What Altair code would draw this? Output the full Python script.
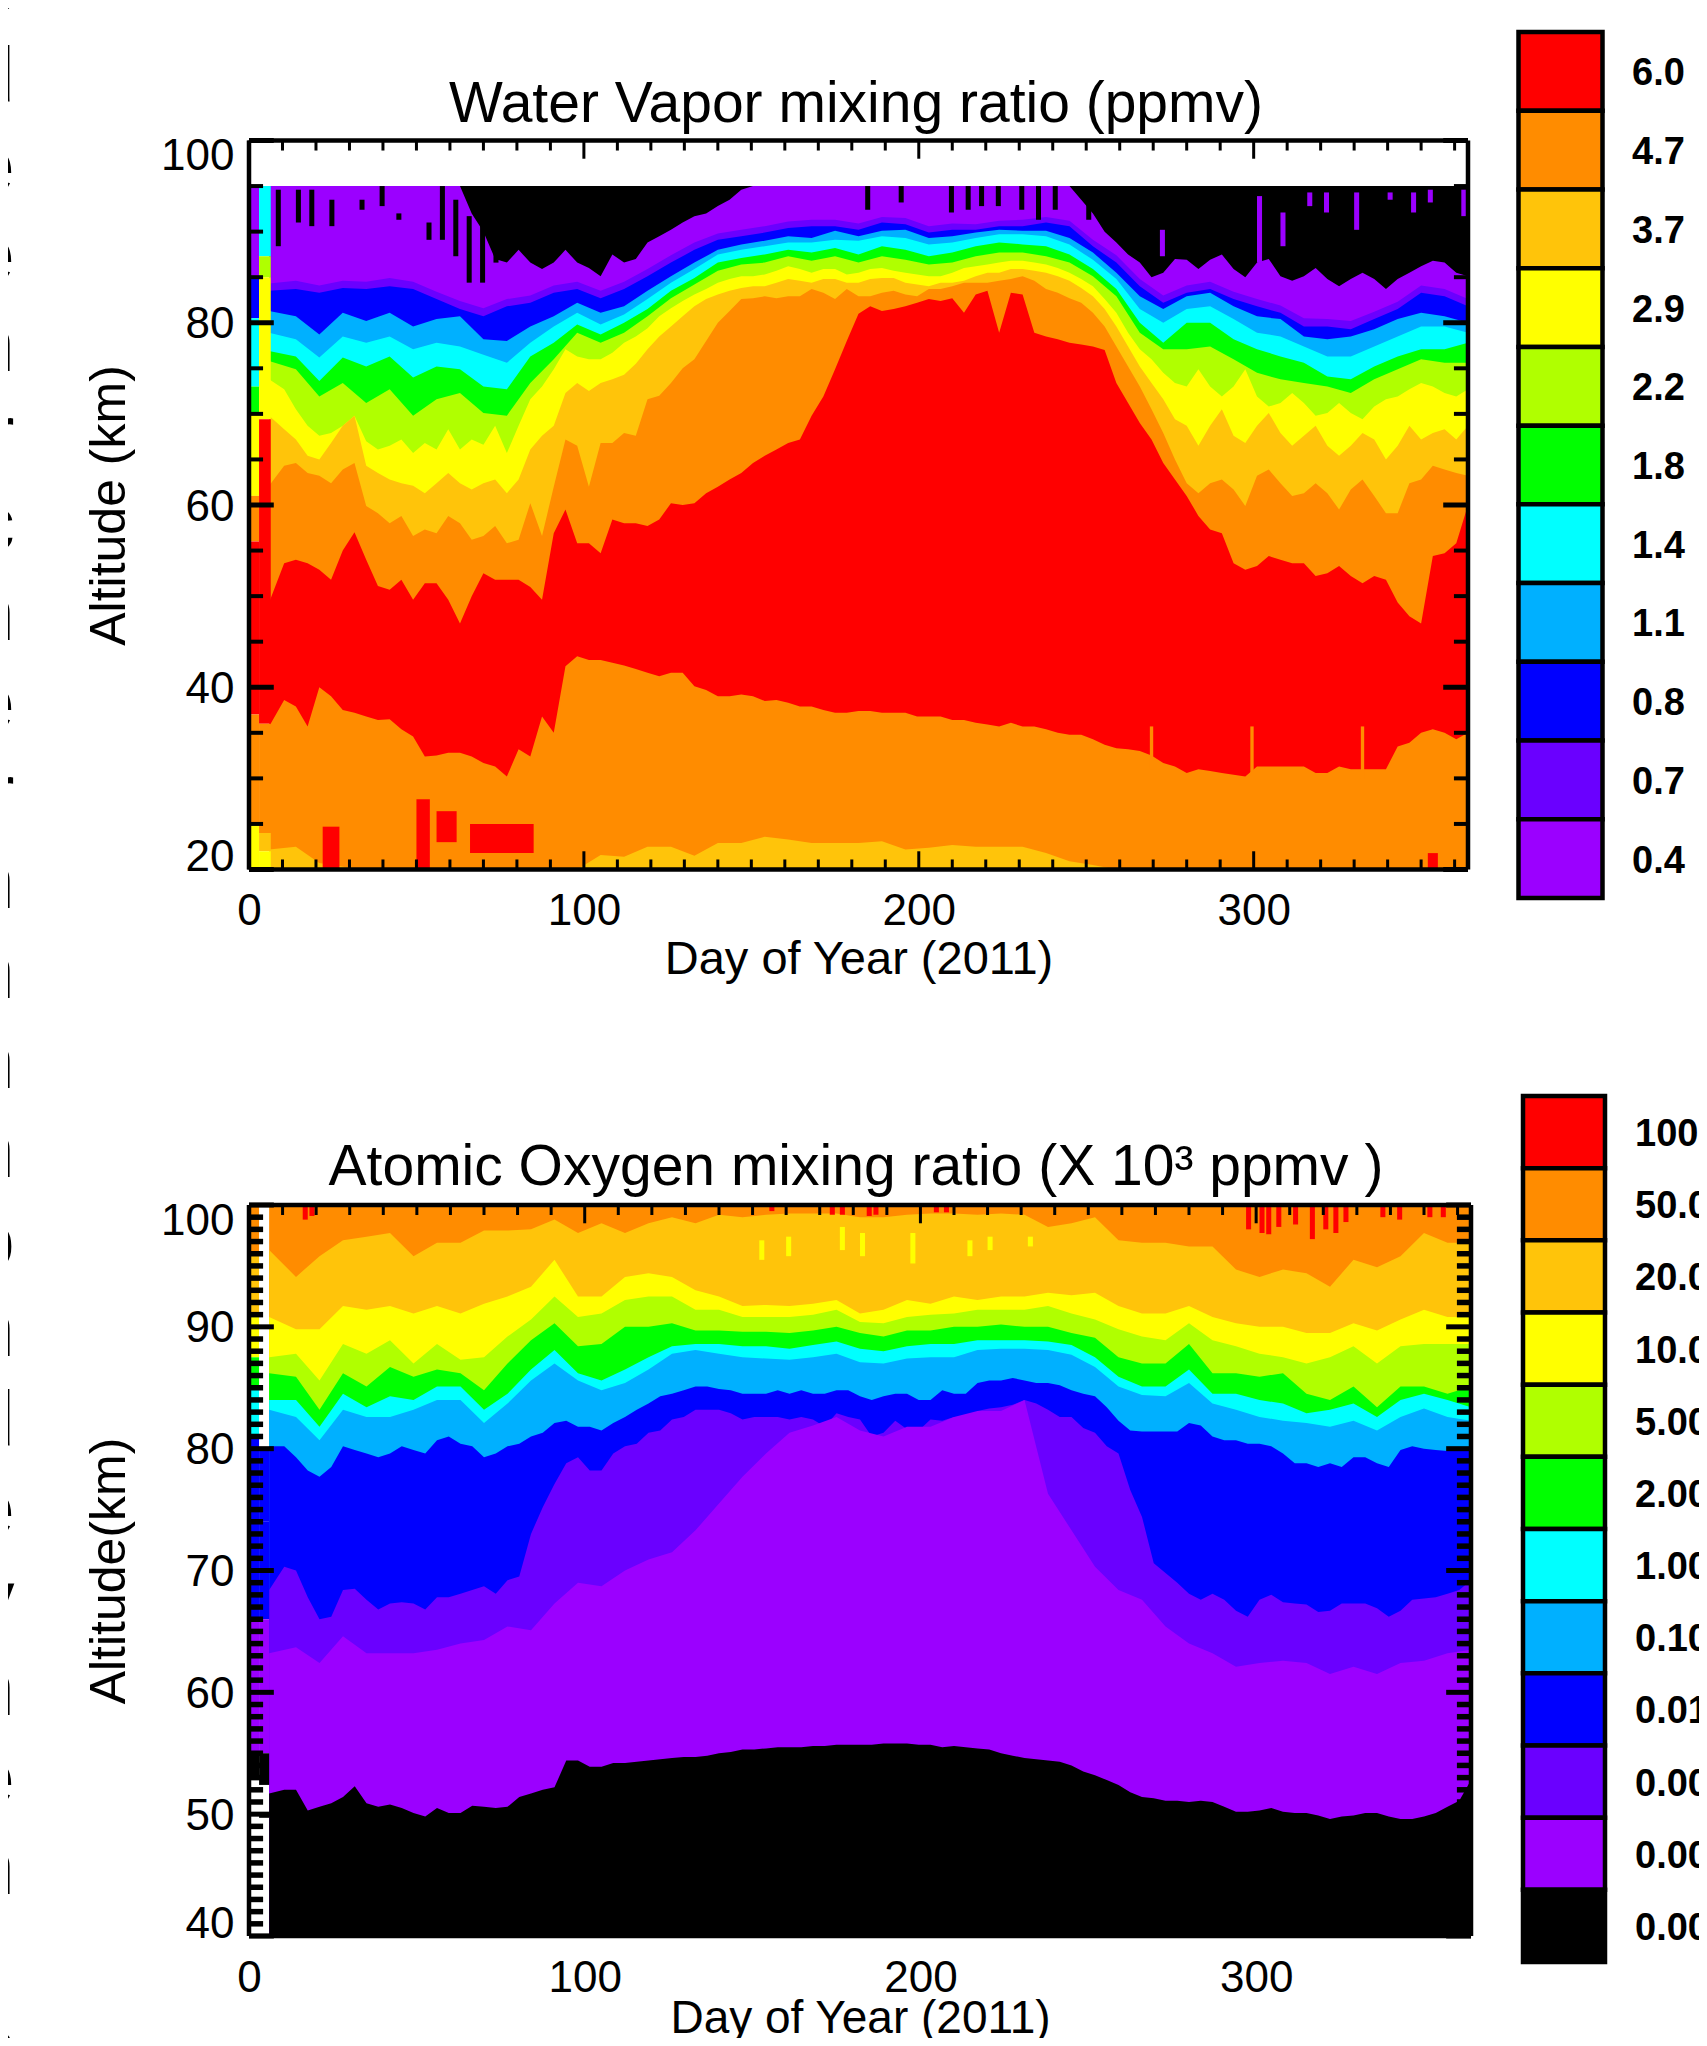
import altair as alt
import pandas as pd

alt.data_transformers.disable_max_rows()

FONT = "Liberation Sans, sans-serif"
RED, ORANGE, GOLD, YELLOW, LIME, GREEN = "#ff0000", "#ff8c00", "#ffc40a", "#ffff00", "#b0ff00", "#00ff00"
CYAN, SKY, BLUE, INDIGO, VIOLET, BLACK = "#00ffff", "#00b0ff", "#0000ff", "#6a00ff", "#9b00ff", "#000000"

DAYS = [6] + list(range(14, 365, 7))
MID_DAYS = [10.5 + 7 * k for k in range(51)]

# ---------- Water vapour: upper altitude (km) of every contour band ----------
wv_purple = [95,95,95,95,95,95,95,95,95,90,86.6,86.6,86.6,86.6,85.1,86.6,88.8,90.2,91.7,92.8,94.6,95,95,95,95,
             95,95,95,95,95,95,95,95,95,95,92,88.8,86.6,85.5,86.9,86.9,85.9,86.6,85.1,85.1,84.8,84.8,84.8,84.8,86.2,86.6,85.1]
wv_purple_mid = [95,95,95,95,95,95,95,95,92,87,88,85.9,88,86,87.5,87,89.5,91,92,93.5,95,95,95,95,95,
                 95,95,95,95,95,95,95,95,95,93.5,90,87.5,85,87,85.9,87.5,85,87,84.6,86,84,85.5,83.7,85.5,86.8,85.5]
wv_indigo = [84.3,84.6,84.1,84.6,84.5,84.9,84.5,83.4,82.4,81.6,82.6,83,84.1,84.5,83.5,84.5,85.9,87.4,88.8,89.8,90.2,90.6,91.1,91.3,91.3,
             90.9,91.6,91.5,90.6,90.9,90.8,91.2,91.3,91.6,91.2,89.1,87.4,84.8,83,84.1,84.5,83.4,82.6,81.9,80.5,80.4,80.2,81.2,82.3,84.1,83.7,82.6]
wv_blue = [83.5,83.7,83.3,83.8,83.7,84.0,83.7,82.6,81.5,80.7,81.8,82.2,83.3,83.7,82.7,83.7,85.1,86.6,88.0,89.1,89.5,89.9,90.4,90.6,90.6,
           90.2,91.0,90.8,89.9,90.2,90.2,90.6,90.6,91.0,90.6,88.4,86.6,84.0,82.2,83.3,83.7,82.6,81.8,81.1,79.6,79.6,79.3,80.4,81.5,83.3,82.9,81.8]
wv_sky = [81.3,80.7,78.7,81.1,80.2,81.1,79.6,80.4,80.7,78.2,78.0,79.6,80.7,82.2,81.1,81.8,83.5,85.1,86.6,88.0,88.6,89.0,89.5,89.3,90.1,
          89.5,90.1,90.2,89.3,89.5,89.9,90.2,90.1,90.1,89.3,87.7,85.5,82.9,81.5,82.9,83.3,81.8,80.7,80.4,78.5,78.2,78.5,79.3,80.4,81.1,80.7,80.0]
wv_cyan = [78.9,78.2,76.2,78.5,77.8,78.5,77.1,77.8,77.4,76.5,75.6,77.8,79.6,81.1,79.8,80.9,82.6,84.4,85.9,87.5,88.0,88.4,88.8,88.8,89.1,
           89.0,89.5,89.3,88.6,88.8,89.3,89.7,89.7,89.5,88.6,86.9,84.8,81.5,80.0,81.5,81.8,80.4,78.9,78.5,77.4,76.3,76.3,77.4,78.5,79.6,79.6,78.9]
wv_green = [76.9,76.3,73.6,76.2,75.2,76.3,74.0,75.2,74.9,73.0,72.7,76.3,77.8,79.8,78.7,80.0,81.5,83.5,84.9,86.6,87.1,87.5,88.0,87.7,88.2,
            87.5,88.4,88.0,87.3,87.7,88.4,88.8,88.6,88.4,87.5,85.9,83.7,80.0,77.8,80.0,80.0,78.2,77.1,76.3,75.6,74.1,73.8,75.2,76.3,77.1,77.1,77.8]
wv_lime = [75.8,74.9,71.9,73.4,71.2,72.7,69.8,71.6,72.3,70.1,69.8,73.4,76.0,78.9,77.8,78.9,80.7,82.7,84.2,85.7,86.4,86.6,87.3,86.8,87.3,
           86.6,87.3,86.9,86.4,86.6,87.3,87.7,87.7,87.3,86.6,85.1,82.9,78.9,77.1,77.1,77.4,76.0,74.5,73.8,73.4,73.0,72.3,73.8,74.9,76.0,75.6,75.6]
wv_yellow = [73.8,70.5,67.6,68.7,67.0,66.5,65.7,66.1,66.1,66.6,65.7,71.6,74.9,76.3,76.0,77.8,79.4,81.6,83.1,84.4,85.1,85.3,86.2,85.5,85.9,
             85.5,86.0,85.5,85.1,85.5,86.2,86.6,86.8,86.4,85.5,84.0,81.1,77.1,74.5,73.0,73.0,73.0,71.9,71.2,71.2,70.1,70.1,70.8,71.9,73.4,72.3,72.7]
wv_yellow_mid = [72.7,68.7,67.9,69.8,66.1,67.2,66.8,68.3,67.2,68.7,68.7,73,77.1,76,76.7,78.5,80.7,82.4,83.7,84.8,85.1,85.7,85.9,85.9,85.3,
                 85.9,85.7,85.3,85.1,86,86.4,86.8,86.6,86,84.8,82.6,78.9,76,73.4,74.9,71.9,74.9,70.8,72.3,69.8,71.2,69.4,71.6,72.7,73,71.9]
wv_gold = [69.8,67.2,65.0,68.7,64.3,62.8,62.1,62.4,62.4,62.4,61.3,66.1,68.7,73.4,73.4,74.3,77.1,79.6,81.8,83.1,83.8,84.0,84.8,84.4,84.8,
           84.4,84.9,84.4,84.0,84.4,85.1,85.5,85.9,85.5,84.6,82.9,79.6,75.2,71.6,68.7,68.7,67.6,68.7,67.9,67.6,66.5,66.5,67.2,66.5,67.2,68.3,68.7]
wv_gold_mid = [68.3,65.4,66.8,69.8,63.5,62.4,61.3,63.5,61.7,62.8,62.8,67.6,72.3,72.5,73.8,75.5,78.5,80.7,82.6,83.5,84,84.4,84.6,84.8,84.4,
               84.8,84.9,84.2,84.4,84.6,85.5,85.9,85.7,85.1,83.8,81.5,77.4,73.4,69.4,66.5,70.5,66.8,70.1,66.5,68.7,65.4,67.9,65,68.7,67.9,67.2]
wv_orange = [62.1,64.6,63.2,63.9,59.9,58.0,56.6,56.9,58.0,56.6,55.8,60.2,62,66.5,66.8,67.9,71.6,73.4,76.0,80.0,82.6,82.9,82.9,83.7,82.6,
             82.9,83.3,83.1,83.7,84.0,84.4,84.6,85.1,83.7,82.7,81.1,77.4,73.0,67.9,62.4,62.4,61.7,63.2,62.4,61.3,61.3,61.7,61.0,59.1,62.8,63.9,63.2]
wv_orange_mid = [64.3,63.5,62.4,64.6,59.1,58.8,57.3,58.8,56.2,57.7,56.2,56.6,67.2,62,66.8,67.6,72,75,78,81.3,82.7,82.7,82.9,83.3,83.7,
                 82.9,83.5,82.9,83.7,84.4,84.4,84.8,84.6,83.3,82.2,79.6,75.2,70.5,65,61.3,62.8,59.9,63.9,61,62.4,59.5,62.8,59.1,62.4,64.3,63.5]
wv_red_top = [49.3,54,52.9,55,54,50.7,49.6,51.4,47,52.5,51.8,51,56.9,55.8,54.7,58,57.7,60.2,60.2,62,63.5,65.4,66.8,69.8,74.9,
              81,81.3,81.8,82.6,82.7,83.1,78.9,83.1,78.5,77.8,77.4,73.4,69,64.6,61,57.3,53.6,53.3,54,53.6,52.5,52.2,52.2,49.3,47,54.7,60]
wv_red_top_mid = [53.6,53.6,51.8,57,51.1,51.8,51.4,49.6,50,51.8,51.8,49.6,59.5,55.8,58.4,58,58.4,60,61.3,62.8,64.6,66.1,67.2,71.9,78,
                  81.8,81.5,82.2,82.4,81.1,83.5,83.3,78.9,78.2,77.6,77,71.2,67.2,62.8,58.8,56.9,52.9,54.4,53.6,52.2,53.3,51.4,51.8,47.8,54.4,55.8]
wv_red_bot = [35.7,37.9,40,37.5,36.8,36.5,34.6,32.5,32.8,31.7,30.2,32.4,35,43.4,43,42.4,41.6,41.6,40.1,39,39.2,38.5,38.3,37.9,37.2,
              37.4,37.2,37.2,36.8,36.4,36.1,35.7,35.7,35.4,34.8,34.3,33.3,33,31.7,30.6,30.8,30.4,31.3,31.3,31.3,30.6,31,31,33.5,35,35,35]
wv_red_bot_mid = [38.6,35.7,39,37.2,36.4,35.4,32.4,32.8,32.4,31.3,33.2,36.8,42.3,43,42.7,42,41.2,41.6,39.7,39,39,38.6,37.9,37.5,37.2,
                  37.4,37.2,36.8,36.8,36.4,35.9,36.1,35.7,35,34.8,33.7,33.2,32.5,31.3,31,30.6,30.2,31.3,31.3,30.6,31.3,31,31,33.9,35.4,34.3]
wv_low_gold = [22.2,22.5,20.7,20.3,20,20,20,20,20,20,20,20,20,20,21.6,21.4,22.5,22.5,21.5,22.9,22.9,23.6,23.3,22.9,22.9,
               22.9,23.1,22.2,22.4,22.7,22.5,22.5,22.5,21.8,20.9,20.5,20,20,20,20,20,20,20,20,20,20,20,20,20,20,20,20]

wv_blob_days = [(22, 27), (50, 54), (56, 62), (66, 85), (352, 355)]
wv_blob_alts = [(24.7, 20), (27.7, 20), (26.4, 23), (25, 21.8), (21.8, 20)]

wv_black_day = [8,14,18,24,33,39,44,53,57,61,65,69,73,184,194,209,214,218,223,230,235,240,250]
wv_black_hi = [94.6,94.6,94.6,93.5,93.5,95,92,91,95,93.5,91.7,94.6,95,95,95,95,95,95,95,95,95,95,95]
wv_black_lo = [88.4,91,90.6,90.6,92.4,92.8,91.3,89.1,89.1,87.3,84.4,84.4,86.6,92.4,93.2,92.1,92.4,92.8,92.8,92.4,91.3,92.4,91.3]
wv_violet_day = [272,301,308,316,321,330,340,347,352,362]
wv_violet_hi = [90.2,93.9,92.1,94.3,94.3,94.3,94.3,94.3,94.6,94.6]
wv_violet_lo = [87.3,86.6,88.4,92.8,92.1,90.2,93.5,92.1,93.2,91.7]
wv_orange_day = [269, 299, 332]
wv_orange_hi = [35.7, 35.7, 35.7]
wv_orange_lo = [31, 30, 30]

wv_strip = [
    (0.5, 3, 95, 85, VIOLET), (0.5, 3, 85, 80.5, BLUE), (0.5, 3, 80.5, 73, CYAN), (0.5, 3, 73, 70, GREEN),
    (0.5, 3, 70, 61, YELLOW), (0.5, 3, 61, 56, ORANGE), (0.5, 3, 56, 37, RED), (0.5, 3, 37, 25, ORANGE), (0.5, 3, 25, 20, YELLOW),
    (3, 6.5, 95, 87.3, CYAN), (3, 6.5, 87.3, 85, LIME), (3, 6.5, 85, 69.4, YELLOW), (3, 6.5, 69.4, 36, RED),
    (3, 6.5, 36, 24, ORANGE), (3, 6.5, 24, 22, GOLD), (3, 6.5, 22, 20, YELLOW),
]

# ---------- Atomic oxygen ----------
ao_gold = [96.3,94.1,95.8,97.1,97.4,97.7,95.8,96.9,96.9,97.9,97.9,98,98.8,97.7,98.5,97.7,98.5,99,98.5,99.2,99,99.2,99.3,99.3,99.3,
           99,99,99.2,99.3,99.3,99.2,99.3,99.2,98.2,98.5,99,97.1,96.9,96.9,96.6,96.6,94.7,94.1,94.7,94.4,93.3,95.5,94.9,95.8,97.7,96.9,96.9]
ao_yellow = [90.8,89.8,89.8,91.7,91.4,91.7,91.1,91.7,91.1,91.9,92.5,93.3,95.5,92.5,92.5,94.1,94.4,94.1,93.0,92.5,91.7,91.8,91.7,91.9,92.2,
             91.1,91.4,92.2,91.9,92.5,92.2,92.5,92.5,92.8,92.6,92.8,91.7,91.1,91.1,91.7,90.8,90.3,90.0,90.0,89.5,89.5,90.3,89.7,90.6,91.4,90.8,90.8]
ao_lime = [87.5,87.8,85.6,88.6,87.8,88.9,87.0,88.6,87.3,87.5,89.2,90.6,92.5,90.8,91.1,92.2,92.5,92.5,91.4,91.4,90.8,90.8,90.8,91.0,91.4,
           90.4,90.3,90.8,91.0,91.1,91.4,91.4,91.4,91.7,91.1,90.6,89.8,89.2,88.9,90.3,88.9,88.4,87.8,87.5,87.0,87.5,88.4,87.0,88.4,88.6,88.6,88.6]
ao_green = [86.2,85.9,83.2,86.2,85.1,86.7,85.9,86.5,86.2,84.8,87.0,88.9,90.3,88.4,88.6,90.0,90.0,90.3,89.7,89.7,89.6,89.6,89.5,89.7,90.0,
            89.5,89.2,89.7,89.7,90.0,90.0,90.2,90.0,90.0,89.5,89.1,87.5,87.0,87.0,88.6,86.2,86.2,85.9,86.2,84.5,84.0,85.1,83.4,85.1,85.1,84.5,85.1]
ao_cyan = [84.0,84.0,81.8,84.5,83.4,84.3,84.0,85.1,85.1,83.2,84.5,86.5,88.1,86.2,85.6,86.5,87.5,88.4,88.6,88.6,88.4,88.4,88.2,88.5,88.8,
           88.2,88.0,88.4,88.6,88.6,88.9,88.9,88.9,88.8,88.5,87.5,85.9,85.1,85.1,86.5,84.5,84.5,84.0,83.7,82.9,83.2,83.7,82.6,84.0,84.5,84.0,83.4]
ao_sky = [83.2,82.6,80.7,83.2,82.6,82.6,83.2,84.0,84.0,82.1,83.7,85.6,87.0,85.6,84.8,85.4,86.5,87.8,88.1,87.8,87.5,87.4,87.3,87.5,87.8,
          87.1,87.0,87.4,87.5,87.5,88.1,88.2,88.2,88.1,87.7,86.7,85.1,84.4,84.3,85.4,83.7,83.2,82.6,82.3,82.1,81.8,82.3,81.5,82.6,83.3,82.6,82.3]
ao_blue = [80.2,79.3,77.7,80.2,79.6,79.6,79.9,80.7,80.4,79.3,80.2,81.0,82.1,81.8,81.5,82.6,83.7,84.5,85.1,84.9,84.5,84.5,84.5,84.5,84.8,
           84.3,84.3,84.5,84.0,84.5,85.4,85.6,85.6,85.4,84.8,84.3,82.3,81.4,81.4,82.1,81.0,80.7,80.4,79.6,78.8,78.8,79.3,78.8,79.9,80.0,79.8,79.9]
ao_blue_mid = [80.2,78.2,78.5,79.9,79.3,80.2,79.6,81,80.2,79.6,80.4,81.3,82.3,81.8,82.1,83.2,84.3,84.8,85.1,84.8,84.5,84.8,84.8,84.5,84.8,
               84,84.5,84,84.8,84.5,85.6,85.8,85.4,85.2,84.5,83.4,81.5,81.4,81.4,81.9,80.7,80.4,80.2,78.8,78.5,78.5,79.3,78.5,80.2,79.9,79.9]
ao_indigo = [68.4,70,66,68.4,67.6,67.3,67.3,67.8,68.1,68.7,69.2,73,77.1,79.3,78.2,80.2,81.3,82.4,83.2,83.2,82.4,82.6,82.4,82.4,82.9,
             82.4,81.3,81.6,82.4,82.6,83.1,83.4,84,83.2,82.6,81.3,79.6,74.4,69.8,68.1,68.1,66.7,67.6,67.4,67.2,66.7,67.3,66.9,66.7,67.7,68.1,69.2]
ao_indigo_mid = [70.3,67.8,66.2,68.5,66.8,67.4,66.8,67.8,68.4,68.1,69.5,75.2,78.8,78.2,79.6,80.4,81.5,82.6,83.2,82.9,82.6,82.6,82.6,81.8,82.6,
                 81,82.3,81.5,82.3,81.8,83.3,83.6,83.7,82.6,81.7,80.2,76.6,70.6,69,67.6,67.6,66.2,68,67.3,66.6,67.3,67.3,66.2,67.6,67.8,68.4]
ao_violet = [63.2,63.7,62.4,64.6,63.2,63.2,63.2,63.5,64,64.3,65.4,65.1,67.3,69,68.7,70,70.9,71.5,73.3,75.5,77.7,79.6,81.3,81.9,82.6,
             81.5,81.0,81.8,81.8,82.6,83.1,83.1,84,76.3,73.3,70.3,68.4,67.6,65.4,64,63.2,62.1,62.4,62.6,62.4,61.5,62.1,61.5,62.4,62.6,63.2,63.5]
ao_black = [51.7,52,50.6,51.4,50.9,50.8,50.1,50.5,50.1,50.6,50.6,51.7,52.2,54.4,53.9,54.2,54.4,54.6,54.7,55,55.3,55.4,55.5,55.6,55.7,
            55.7,55.8,55.8,55.7,55.6,55.4,55,54.6,54.4,54,53.2,52.4,51.4,51.1,51,51,50.2,50.3,50.2,50.1,49.6,49.9,50.1,49.6,49.8,50.6,52.8]
ao_black_mid = [52,50.3,50.9,52.3,50.6,50.5,49.8,50.1,50.7,50.5,51.4,52,54.4,53.9,54.2,54.3,54.5,54.7,54.8,55.1,55.3,55.5,55.5,55.6,55.7,
                55.7,55.8,55.7,55.5,55.5,55.3,54.8,54.5,54.3,53.5,52.8,51.8,51.3,51.1,51.1,50.6,50.2,50.5,50.1,49.9,49.8,50.1,49.8,49.6,50.1,51.1]

ao_red_day = [16,18,155,173,176,184,186,204,207,297,301,303,306,311,316,320,323,326,337,342,351,355]
ao_red_hi = [100,100,100,100,100,100,100,100,100,100,100,100,100,100,100,100,100,100,100,100,100,100]
ao_red_lo = [98.8,99.1,99.5,99.2,99.2,99.1,99.2,99.4,99.4,98,97.7,97.6,98.2,98.4,97.2,98,97.7,98.6,99,98.8,99,99]
ao_yellow_day = [152,160,176,182,197,214,220,232]
ao_yellow_hi = [97.1,97.4,98.2,97.7,97.7,97.1,97.4,97.4]
ao_yellow_lo = [95.5,95.8,96.3,95.8,95.2,95.8,96.3,96.6]

ao_strip = [
    (0.5, 3, 100, 96, ORANGE), (0.5, 3, 96, 91, GOLD), (0.5, 3, 91, 87.5, YELLOW), (0.5, 3, 87.5, 85, GREEN),
    (0.5, 3, 85, 81, CYAN), (0.5, 3, 81, 66, BLUE), (0.5, 3, 66, 55, VIOLET), (0.5, 3, 55, 53, BLACK),
    (3, 6, 80, 74, BLUE), (3, 6, 74, 66, BLUE), (3, 6, 66, 55, VIOLET), (3, 6, 55, 52.4, BLACK), (3, 6, 50, 49.7, BLACK),
]

wv_labels = ["6.0", "4.7", "3.7", "2.9", "2.2", "1.8", "1.4", "1.1", "0.8", "0.7", "0.4"]
wv_bar_colors = [RED, ORANGE, GOLD, YELLOW, LIME, GREEN, CYAN, SKY, BLUE, INDIGO, VIOLET]
ao_labels = ["100.0", "50.00", "20.00", "10.00", "5.000", "2.000", "1.000", "0.100", "0.010", "0.005", "0.001", "0.000"]
ao_bar_colors = [RED, ORANGE, GOLD, YELLOW, LIME, GREEN, CYAN, SKY, BLUE, INDIGO, VIOLET, BLACK]

letters = ["s", "d", "e", "e", "n", "r", "c", "n", "e", "r", "n", "n", "n", "n", "o", "n", "d", "e", "y", "n", "e", "n", ".", "s"]

# ---------- layout (view pixels) ----------
W, H = 1691, 2030
P1 = dict(x=[241, 1460], y=[861.5, 132.5], ydom=[20, 100], xdom=[0, 364], xtitle=(47, 3))
P2 = dict(x=[241, 1463], y=[1928, 1197], ydom=[40, 100], xdom=[0, 364], xtitle=(46, -4))


def sx(p):
    return alt.Scale(domain=p["xdom"], range=p["x"], nice=False, zero=False)


def sy(p):
    return alt.Scale(domain=p["ydom"], range=p["y"], nice=False, zero=False)


def merged(main, mid):
    if mid is None:
        return list(zip(DAYS, main))
    assert len(main) == len(DAYS) and len(mid) == len(MID_DAYS), (len(main), len(mid))
    return sorted(list(zip(DAYS, main)) + list(zip(MID_DAYS, mid)))


def bands(rows):
    out = []
    for key, row in enumerate(rows):
        color, hi, lo = row[0], row[1], row[2]
        hi_mid = row[3] if len(row) > 3 else None
        lo_mid = row[4] if len(row) > 4 else None
        assert len(hi) == len(DAYS), (key, len(hi))
        upper = merged(hi, hi_mid)
        if isinstance(lo, list):
            lower = [v for _, v in merged(lo, lo_mid)]
        else:
            lower = [lo] * len(upper)
        for (d, h), l in zip(upper, lower):
            out.append(dict(day=d, hi=h, lo=l, color=color, key=key))
    return pd.DataFrame(out)


def rects(rows):
    return pd.DataFrame([dict(d1=a, d2=b, hi=h, lo=l, color=c) for a, b, h, l, c in rows])


def streaks(days, his, los, color, width=1.5):
    return [(d, d + width, h, l, color) for d, h, l in zip(days, his, los)]


def ticks(p, xminor, yminor, ymajor, xlen, ylen, yw):
    x0, x1 = p["xdom"]
    y0, y1 = p["ydom"]
    rows = []
    for v in xminor:
        major = v % 100 == 0
        ln = xlen[0] if major else xlen[1]
        for base, sgn in ((y0, 1), (y1, -1)):
            rows.append(dict(x=v, x2=v, hi=base, y2=base + sgn * ln, w=3))
    for v in yminor:
        major = v in ymajor
        ln = ylen[0] if major else ylen[1]
        for base, sgn in ((x0, 1), (x1, -1)):
            rows.append(dict(x=base, x2=base + sgn * ln, hi=v, y2=v, w=5 if major else yw))
    for a, b, c, d in ((x0, x1, y0, y0), (x0, x1, y1, y1), (x0, x0, y0, y1), (x1, x1, y0, y1)):
        rows.append(dict(x=a, x2=b, hi=c, y2=d, w=4.5))
    return pd.DataFrame(rows)


def panel(p, band_df, rect_df, tick_df, ytick_vals, ytitle, title_text, title_x, title_y):
    x_axis = alt.Axis(
        orient="bottom", offset=p["y"][0] - H, values=[0, 100, 200, 300], domain=False, ticks=False, tickSize=0,
        grid=False, labelFont=FONT, labelFontSize=44, labelColor="black", labelPadding=20, labelFlush=False,
        labelAngle=0, format="d", title="Day of Year (2011)", titleFont=FONT, titleFontSize=p["xtitle"][0],
        titleFontWeight="normal", titleColor="black", titlePadding=p["xtitle"][1])
    y_axis = alt.Axis(
        orient="left", offset=-p["x"][0], values=ytick_vals, domain=False, ticks=False, tickSize=0, grid=False,
        labelFont=FONT, labelFontSize=44, labelColor="black", labelPadding=15, labelFlush=True, labelFlushOffset=8,
        labelOffset=2, format="d",
        title=ytitle, titleFont=FONT, titleFontSize=50, titleFontWeight="normal", titleColor="black", titlePadding=26)
    col = alt.Color("color:N", scale=None, legend=None)
    areas = alt.Chart(band_df).mark_area(clip=True, interpolate="linear").encode(
        x=alt.X("day:Q", scale=sx(p), axis=x_axis), y=alt.Y("hi:Q", scale=sy(p), axis=y_axis), y2="lo:Q", color=col, detail="key:N")
    spots = alt.Chart(rect_df).mark_rect(clip=True).encode(
        x=alt.X("d1:Q", scale=sx(p), axis=x_axis), x2="d2:Q",
        y=alt.Y("hi:Q", scale=sy(p), axis=y_axis), y2="lo:Q", color=col)
    marks = alt.Chart(tick_df).mark_rule(color="black", clip=True).encode(
        x=alt.X("x:Q", scale=sx(p), axis=x_axis), x2="x2:Q",
        y=alt.Y("hi:Q", scale=sy(p), axis=y_axis), y2="y2:Q",
        strokeWidth=alt.StrokeWidth("w:Q", scale=None, legend=None))
    head = alt.Chart(pd.DataFrame({"t": [title_text]})).mark_text(
        font=FONT, fontSize=57, align="center", baseline="alphabetic", color="black").encode(
        x=alt.value(title_x), y=alt.value(title_y), text="t:N")
    return alt.layer(areas, spots, marks, head)


def colorbar(labels, colors, yrange, xa, xb, xlabel):
    n = len(labels)
    df = pd.DataFrame(dict(i=list(range(n)), j=[k + 1 for k in range(n)], m=[k + 0.5 for k in range(n)],
                           label=labels, color=colors))
    scale = alt.Scale(domain=[0, n], range=yrange, nice=False, zero=False)
    bars = alt.Chart(df).mark_rect(stroke="black", strokeWidth=4.5).encode(
        x=alt.value(xa), x2=alt.value(xb), y=alt.Y("i:Q", scale=scale, axis=None), y2="j:Q",
        color=alt.Color("color:N", scale=None, legend=None))
    text = alt.Chart(df).mark_text(font=FONT, fontSize=38, fontWeight="bold", align="left", baseline="middle",
                                   dy=3, color="black", clip=True).encode(
        x=alt.value(xlabel), y=alt.Y("m:Q", scale=scale, axis=None), text="label:N")
    return alt.layer(bars, text)


# ---------- assemble ----------
wv_band_df = bands([
    (BLACK, [95] * len(DAYS), 20), (VIOLET, wv_purple, 20, wv_purple_mid), (INDIGO, wv_indigo, 20), (BLUE, wv_blue, 20),
    (SKY, wv_sky, 20), (CYAN, wv_cyan, 20), (GREEN, wv_green, 20), (LIME, wv_lime, 20), (YELLOW, wv_yellow, 20, wv_yellow_mid),
    (GOLD, wv_gold, 20, wv_gold_mid), (ORANGE, wv_orange, 20, wv_orange_mid),
    (RED, wv_red_top, wv_red_bot, wv_red_top_mid, wv_red_bot_mid), (GOLD, wv_low_gold, 20),
])
wv_rects = rects(
    wv_strip
    + streaks(wv_black_day, wv_black_hi, wv_black_lo, BLACK)
    + streaks(wv_violet_day, wv_violet_hi, wv_violet_lo, VIOLET)
    + streaks(wv_orange_day, wv_orange_hi, wv_orange_lo, ORANGE, 1.0)
    + [(d[0], d[1], a[0], a[1], RED) for d, a in zip(wv_blob_days, wv_blob_alts)]
)
wv_ticks = ticks(P1, list(range(0, 361, 10)), list(range(25, 100, 5)) + [20, 100], [20, 40, 60, 80, 100], (2.0, 1.1), (7.4, 4.2), 4)
ao_band_df = bands([
    (ORANGE, [100] * len(DAYS), 40), (GOLD, ao_gold, 40), (YELLOW, ao_yellow, 40), (LIME, ao_lime, 40),
    (GREEN, ao_green, 40), (CYAN, ao_cyan, 40), (SKY, ao_sky, 40), (BLUE, ao_blue, 40, ao_blue_mid),
    (INDIGO, ao_indigo, 40, ao_indigo_mid), (VIOLET, ao_violet, 40), (BLACK, ao_black, 40, ao_black_mid),
])
ao_rects = rects(
    ao_strip
    + streaks(ao_red_day, ao_red_hi, ao_red_lo, RED)
    + streaks(ao_yellow_day, ao_yellow_hi, ao_yellow_lo, YELLOW)
)
ao_ticks = ticks(P2, list(range(0, 361, 10)), list(range(40, 101)), [40, 50, 60, 70, 80, 90, 100], (1.5, 0.82), (7.4, 4.2), 5.5)

p1 = panel(P1, wv_band_df, wv_rects, wv_ticks, [20, 40, 60, 80, 100], "Altitude (km)",
           "Water Vapor mixing ratio (ppmv)", 848, 114)
p2 = panel(P2, ao_band_df, ao_rects, ao_ticks, [40, 50, 60, 70, 80, 90, 100], "Altitude(km)",
           "Atomic Oxygen mixing ratio (X 10\u00b3 ppmv )", 848, 1177)
cb1 = colorbar(wv_labels, wv_bar_colors, [24, 890], 1510.5, 1594.5, 1624)
cb2 = colorbar(ao_labels, ao_bar_colors, [1088, 1954], 1515, 1597, 1627)

letter_df = pd.DataFrame(dict(i=list(range(-1, len(letters) - 1)), c=letters))
side = alt.Chart(letter_df).mark_text(font="Liberation Sans", fontSize=77, align="right", baseline="alphabetic",
                                      color="black", clip=True).encode(
    x=alt.value(6.5),
    y=alt.Y("i:Q", scale=alt.Scale(domain=[0, 22], range=[94, 2065], nice=False, zero=False), axis=None),
    text="c:N")

chart = alt.layer(side, p1, p2, cb1, cb2).resolve_scale(x="independent", y="independent").properties(
    width=W, height=H, padding=0, background="white", autosize=alt.AutoSizeParams(type="none")
).configure_view(stroke=None)

chart.save("out.html", embed_options={"renderer": "svg", "actions": False})
